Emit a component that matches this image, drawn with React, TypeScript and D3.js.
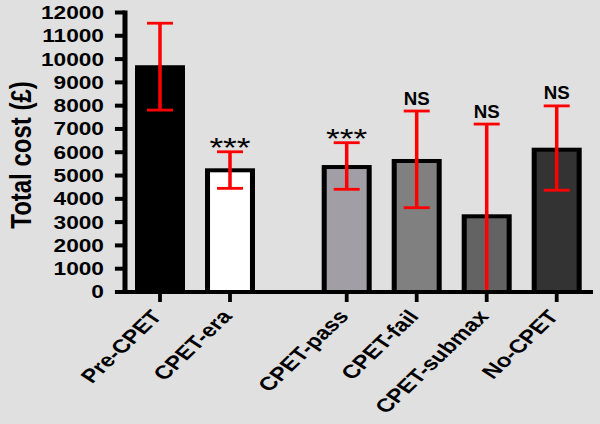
import React from "react";
import * as d3 from "d3";

const categories = ["Pre-CPET", "CPET-era", "CPET-pass", "CPET-fail", "CPET-submax", "No-CPET"];
const slots = [0, 1, 2.667, 3.667, 4.667, 5.667];
const means = [9650, 5225, 5365, 5625, 3250, 6110];
const upper = [11540, 6020, 6410, 7770, 7210, 7990];
const lower = [7810, 4450, 4410, 3620, 0, 4370];
const fills = ["#000000", "#ffffff", "#a19fa5", "#808080", "#636363", "#333333"];
const marks = ["", "***", "***", "NS", "NS", "NS"];
const yTicks = [0, 1000, 2000, 3000, 4000, 5000, 6000, 7000, 8000, 9000, 10000, 11000, 12000];

const W = 600;
const H = 424;
const S = 1.26; // horizontal stretch of the original picture

export default function App() {
  const axisX = 125 / S;
  const x = d3.scaleLinear().domain([0, 5.667]).range([160 / S, 556.7 / S]);
  const y = d3.scaleLinear().domain([0, 12000]).range([292, 12.5]);
  const barW = 50 / S - 4;
  const capW = 26 / S;
  const red = "#ff0000";
  const font = "Liberation Sans, Arial, sans-serif";

  return (
    <svg
      width={W}
      height={H}
      style={{ position: "absolute", left: 0, top: 0, display: "block" }}
    >
      <rect x={0} y={0} width={W} height={H} fill="#e0e0e0" />
      <g transform={`scale(${S},1)`}>
        {/* bars */}
        {categories.map((c, i) => (
          <rect
            key={c}
            x={x(slots[i]) - barW / 2}
            y={y(means[i])}
            width={barW}
            height={y(0) - y(means[i])}
            fill={fills[i]}
            stroke="#000"
            strokeWidth={4}
          />
        ))}
        {/* error bars */}
        {categories.map((c, i) => {
          const cx = x(slots[i]);
          return (
            <g key={"e" + c} stroke={red} strokeWidth={2.8}>
              <line x1={cx} x2={cx} y1={y(upper[i])} y2={y(lower[i])} />
              <line x1={cx - capW / 2} x2={cx + capW / 2} y1={y(upper[i])} y2={y(upper[i])} />
              {lower[i] > 0 && (
                <line x1={cx - capW / 2} x2={cx + capW / 2} y1={y(lower[i])} y2={y(lower[i])} />
              )}
            </g>
          );
        })}
        {/* annotations */}
        {categories.map((c, i) =>
          marks[i] === "***" ? (
            <text
              key={"m" + c}
              x={x(slots[i])}
              y={y(upper[i]) + 5}
              textAnchor="middle"
              fontFamily={font}
              fontSize={28}
              fill="#000"
            >
              {marks[i]}
            </text>
          ) : marks[i] === "NS" ? (
            <text
              key={"m" + c}
              x={x(slots[i])}
              y={y(upper[i]) - 6.5}
              textAnchor="middle"
              fontFamily={font}
              fontWeight="bold"
              fontSize={18}
              textLength={20.6}
              lengthAdjust="spacingAndGlyphs"
              fill="#000"
            >
              {marks[i]}
            </text>
          ) : null
        )}
        {/* y axis */}
        <line x1={axisX} x2={axisX} y1={y(12000) - 2} y2={y(0) + 2} stroke="#000" strokeWidth={4} />
        {yTicks.map((t) => (
          <g key={"yt" + t}>
            <line x1={axisX - 8} x2={axisX} y1={y(t)} y2={y(t)} stroke="#000" strokeWidth={4} />
            <text
              x={104 / S}
              y={y(t)}
              dy="0.36em"
              textAnchor="end"
              fontFamily={font}
              fontWeight="bold"
              fontSize={18}
              fill="#000"
            >
              {t}
            </text>
          </g>
        ))}
        {/* x axis */}
        <line x1={axisX - 2} x2={593 / S} y1={y(0)} y2={y(0)} stroke="#000" strokeWidth={4} />
        {categories.map((c, i) => (
          <g key={"xt" + c}>
            <line x1={x(slots[i])} x2={x(slots[i])} y1={y(0)} y2={y(0) + 10} stroke="#000" strokeWidth={3} />
            <text
              transform={`translate(${x(slots[i]) + 2.4},${317}) rotate(-50)`}
              textAnchor="end"
              fontFamily={font}
              fontWeight="bold"
              fontSize={19}
              fill="#000"
            >
              {c}
            </text>
          </g>
        ))}
        {/* y title */}
        <text
          transform={`translate(${31 / S},155) rotate(-90)`}
          textAnchor="middle"
          fontFamily={font}
          fontWeight="bold"
          fontSize={24}
          fill="#000"
        >
          Total cost (£)
        </text>
      </g>
    </svg>
  );
}
